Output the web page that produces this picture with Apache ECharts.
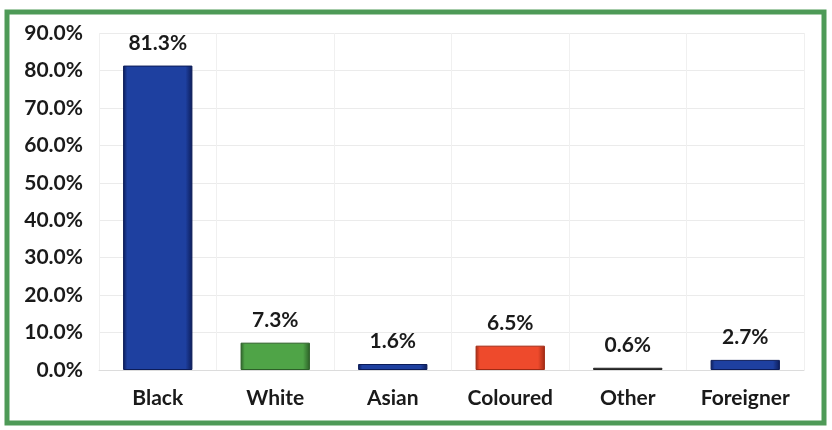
<!DOCTYPE html>
<html>
<head>
<meta charset="utf-8">
<script src="https://cdn.jsdelivr.net/npm/echarts@6/dist/echarts.min.js"></script>
<style>
  html, body { margin: 0; padding: 0; background: #fff; }
  #chart { width: 832px; height: 430px; }
</style>
</head>
<body>
<div id="chart"></div>
<script>
  const categories = ['Black', 'White', 'Asian', 'Coloured', 'Other', 'Foreigner'];
  const shares = [81.3, 7.3, 1.6, 6.5, 0.6, 2.7];
  const yTicks = [0, 10, 20, 30, 40, 50, 60, 70, 80, 90];
  // bar fill, bar edge
  const palette = [
    ['#1e40a0', '#0c1c58'],
    ['#4fa447', '#2c5f28'],
    ['#1e40a0', '#0c1c58'],
    ['#ee4a2c', '#a02a14'],
    ['#555555', '#222222'],
    ['#1e40a0', '#0c1c58']
  ];

  function bevel(c, d) {
    return new echarts.graphic.LinearGradient(0, 0, 1, 0, [
      { offset: 0, color: d },
      { offset: 0.06, color: c },
      { offset: 0.9, color: c },
      { offset: 1, color: d }
    ]);
  }

  let myChart = echarts.init(document.getElementById('chart'));
  let font = 'Lato, "Open Sans", sans-serif';

  let option = {
    animation: false,
    backgroundColor: '#ffffff',
    graphic: [{
      type: 'rect',
      shape: { x: 7, y: 12, width: 817, height: 411 },
      style: { fill: 'none', stroke: '#4e9a57', lineWidth: 5 },
      z: 100
    }],
    grid: { left: 99, right: 28, top: 33, bottom: 60 },
    xAxis: {
      type: 'category',
      data: categories,
      axisLine: { show: true, lineStyle: { color: '#dcdcdc' } },
      axisTick: { show: false },
      splitLine: { show: true, lineStyle: { color: '#f0f0f0' } },
      axisLabel: {
        color: '#1a1a1a', fontFamily: font, fontWeight: 'bold', fontSize: 21, margin: 18
      }
    },
    yAxis: {
      type: 'value',
      min: yTicks[0],
      max: yTicks[yTicks.length - 1],
      interval: 10,
      axisLine: { show: false },
      axisTick: { show: false },
      splitLine: { lineStyle: { color: '#ebebeb' } },
      axisLabel: {
        color: '#1a1a1a', fontFamily: font, fontWeight: 'bold', fontSize: 21, margin: 16,
        formatter: v => v.toFixed(1) + '%'
      }
    },
    series: [{
      type: 'bar',
      barWidth: '59%',
      data: shares.map((v, i) => ({
        value: v,
        itemStyle: {
          color: bevel(palette[i][0], palette[i][1]),
          borderColor: palette[i][1],
          borderWidth: 1
        }
      })),
      label: {
        show: true,
        position: 'top',
        distance: 12,
        color: '#1a1a1a',
        fontFamily: font,
        fontWeight: 'bold',
        fontSize: 21,
        formatter: p => p.value.toFixed(1) + '%'
      }
    }]
  };

  myChart.setOption(option);
</script>
</body>
</html>
